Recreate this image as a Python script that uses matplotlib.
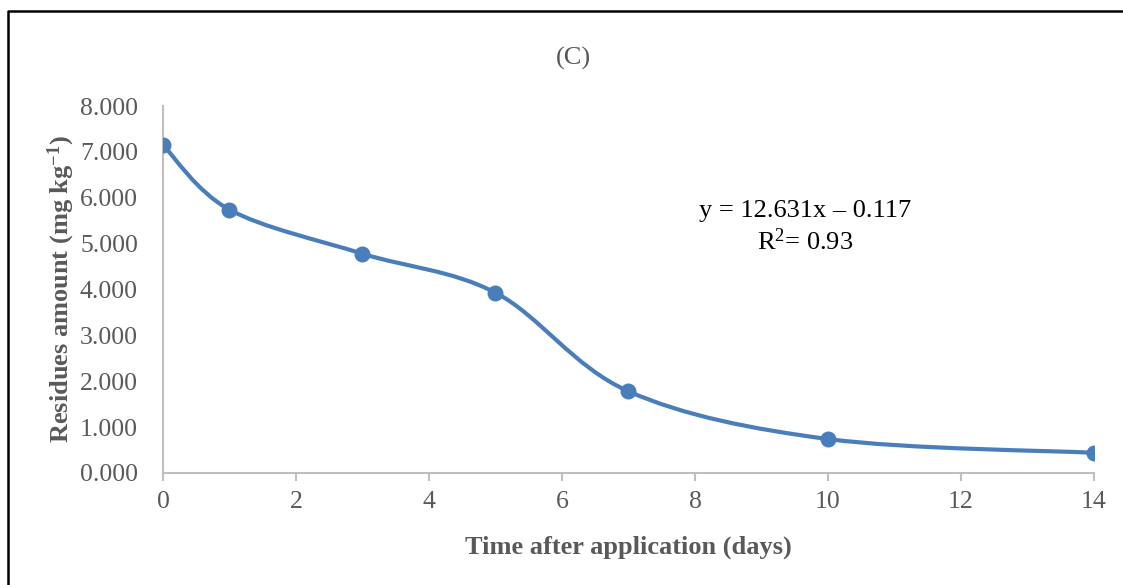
import matplotlib
matplotlib.use("Agg")
import matplotlib.pyplot as plt
from matplotlib.path import Path
from matplotlib.patches import PathPatch
import numpy as np

plt.rcParams['font.family'] = ['Liberation Serif', 'DejaVu Serif']
plt.rcParams['mathtext.fontset'] = 'custom'
plt.rcParams['mathtext.rm'] = 'Liberation Serif'
plt.rcParams['mathtext.bf'] = 'Liberation Serif:bold'
plt.rcParams['mathtext.default'] = 'regular'

days = [0, 1, 3, 5, 7, 10, 14]
residues = [7.15, 5.74, 4.78, 3.93, 1.78, 0.74, 0.44]
y_ticks = [0, 1, 2, 3, 4, 5, 6, 7, 8]
x_ticks = [0, 2, 4, 6, 8, 10, 12, 14]

blue = '#4a7ebb'
grey = '#595959'

fig = plt.figure(figsize=(11.23, 5.85), dpi=100)
ax = fig.add_axes([0.1451, 0.1915, 0.8291, 0.6273])

# Excel-style smoothed line (bezier through the data points)
pts = np.column_stack([days, residues])
verts = [tuple(pts[0])]
codes = [Path.MOVETO]
n = len(pts)
for i in range(n - 1):
    p0 = pts[i - 1] if i > 0 else pts[i]
    p1 = pts[i]
    p2 = pts[i + 1]
    p3 = pts[i + 2] if i + 2 < n else pts[i + 1]
    c1 = p1 + (p2 - p0) / 6.0
    c2 = p2 - (p3 - p1) / 6.0
    verts += [tuple(c1), tuple(c2), tuple(p2)]
    codes += [Path.CURVE4] * 3
ax.add_patch(PathPatch(Path(verts, codes), facecolor='none', edgecolor=blue,
                       lw=3.0, capstyle='round', joinstyle='round', zorder=3))
ax.plot(days, residues, linestyle='none', marker='o', markersize=10.5,
        color=blue, zorder=4)

ax.set_xlim(0, 14)
ax.set_ylim(0, 8)
ax.set_xticks(x_ticks)
ax.set_yticks(y_ticks)
ax.set_yticklabels([f'{v:.3f}' for v in y_ticks])
for s in ['top', 'right']:
    ax.spines[s].set_visible(False)
for s in ['left', 'bottom']:
    ax.spines[s].set_color('#bfbfbf')
    ax.spines[s].set_linewidth(1.5)
ax.tick_params(axis='x', colors='#bfbfbf', length=6, width=1.5, pad=7,
               labelsize=18.5, labelcolor=grey)
ax.tick_params(axis='y', length=0, pad=18, labelsize=18.5, labelcolor=grey)

ax.set_xlabel('Time after application (days)', fontsize=19, fontweight='bold',
              color=grey, labelpad=16)
ax.set_ylabel(r'Residues amount (mg kg$^{\mathbf{-1}}$)', fontsize=19,
              fontweight='bold', color=grey, labelpad=2)

fig.text(573 / 1123, 1 - 58 / 585, '(C)', ha='center', va='center',
         fontsize=19, color=grey)
fig.text(805 / 1123, 1 - 211 / 585, 'y = 12.631x \u2013 0.117', ha='center',
         va='center', fontsize=19, color='black')
fig.text(805 / 1123, 1 - 242 / 585, 'R$^2$= 0.93', ha='center',
         va='center', fontsize=19, color='black')

# outer frame (top and left edges visible)
fig.add_artist(plt.Line2D([7.5 / 1123, 7.5 / 1123, 1.0],
                          [0.0, 1 - 10.5 / 585, 1 - 10.5 / 585],
                          transform=fig.transFigure, color='black', lw=1.8))

fig.savefig('out.png', dpi=100)
